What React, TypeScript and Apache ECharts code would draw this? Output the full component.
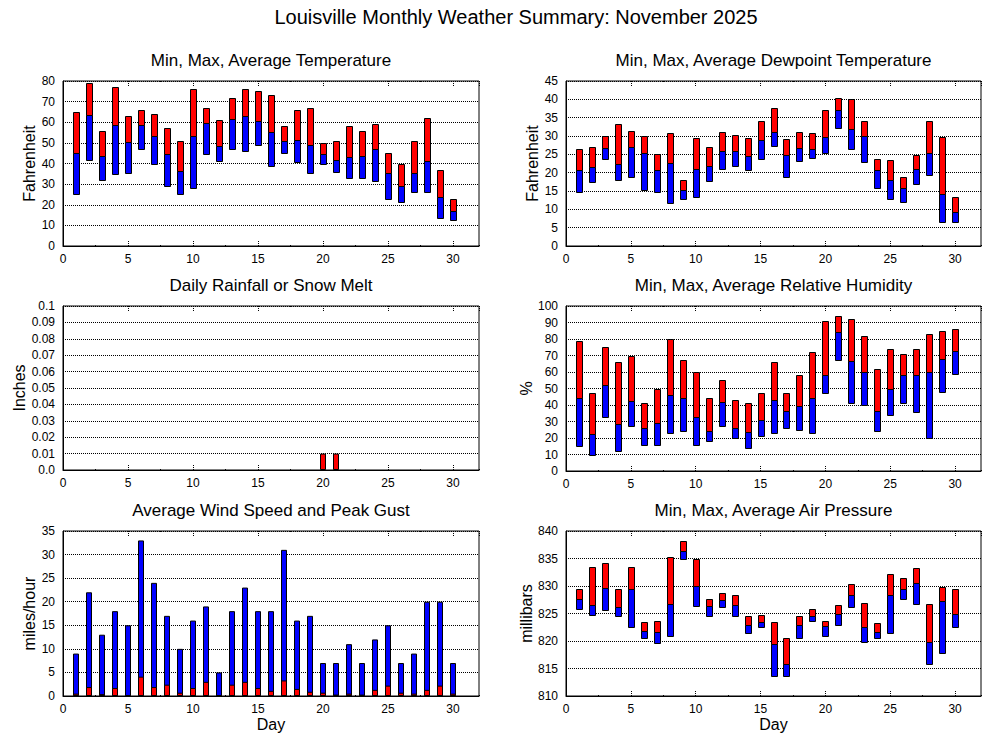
import React, { useEffect, useRef } from "react";
import * as echarts from "echarts";

const days = [1, 2, 3, 4, 5, 6, 7, 8, 9, 10, 11, 12, 13, 14, 15, 16, 17, 18, 19, 20, 21, 22, 23, 24, 25, 26, 27, 28, 29, 30];

const tempMax = [65, 79, 56, 77, 63, 66, 64, 57, 51, 76, 67, 61, 72, 76, 75, 73, 58, 66, 67, 50, 51, 58, 56, 59, 45, 40, 51, 62, 37, 23];
const tempAvg = [45.3, 63.3, 43.7, 58.8, 50.2, 58.5, 53.1, 44.4, 36.4, 53.4, 59.4, 48.6, 61.7, 63.2, 60.7, 55.1, 51.0, 51.5, 49.1, 44.4, 41.9, 43.2, 43.7, 47.1, 35.5, 29.3, 35.5, 41.0, 23.8, 17.2];
const tempMin = [25, 41.5, 32, 35, 35.5, 47, 40, 29, 25, 28, 44.5, 41, 47, 46, 49, 39, 45, 40.5, 35.5, 40, 36, 33, 33, 31.5, 23, 21.5, 26, 26, 13.5, 12.5];

const dewMax = [26.5, 27.0, 30.1, 33.4, 31.4, 30.1, 25.2, 30.7, 18.1, 29.5, 27.0, 31.0, 30.3, 29.5, 34.2, 37.7, 29.2, 31.0, 30.7, 37.2, 40.5, 40.0, 34.2, 23.8, 23.5, 18.9, 24.9, 34.2, 29.8, 13.4];
const dewAvg = [20.6, 21.6, 26.8, 22.4, 27.0, 25.5, 20.6, 22.7, 15.4, 21.0, 21.9, 26.0, 26.0, 24.6, 29.0, 31.1, 24.9, 26.8, 26.5, 29.8, 37.2, 32.0, 30.1, 20.6, 18.1, 15.7, 21.0, 25.4, 14.2, 9.3];
const dewMin = [14.8, 17.5, 23.8, 18.1, 18.9, 15.4, 14.6, 11.8, 12.9, 13.5, 17.8, 20.9, 21.9, 20.6, 23.6, 27.3, 18.7, 23.3, 23.9, 25.5, 32.1, 26.5, 22.8, 15.7, 12.7, 12.1, 16.9, 19.5, 6.6, 6.6];

const rain = [0, 0, 0, 0, 0, 0, 0, 0, 0, 0, 0, 0, 0, 0, 0, 0, 0, 0, 0, 0.01, 0.01, 0, 0, 0, 0, 0, 0, 0, 0, 0];

const rhMax = [79, 47, 75, 66, 70, 41, 50, 80, 67, 60, 44, 55, 43, 41, 47, 66, 47, 58, 72, 91, 94, 92, 82, 62, 74, 71, 74, 83, 85, 86];
const rhAvg = [44.3, 22.5, 52.4, 28.5, 42.5, 26.1, 29.1, 46.2, 44.3, 32.8, 24.3, 41.9, 26.1, 23.7, 31.0, 43.1, 36.4, 39.5, 44.3, 58.3, 84.4, 66.8, 60.1, 36.4, 49.8, 58.3, 58.3, 60.1, 68.0, 72.9];
const rhMin = [15, 10, 33, 12, 27, 16, 16, 23, 24, 16, 18, 27, 20, 14, 21, 23, 26, 25, 23, 47, 67, 41, 40, 24, 34, 41, 36, 20, 48, 59];

const windPeak = [9, 22, 13, 18, 15, 33, 24, 17, 10, 16, 19, 5, 18, 23, 18, 18, 31, 16, 17, 7, 7, 11, 7, 12, 15, 7, 9, 20, 20, 7];
const windAvg = [0.5, 1.9, 0.4, 1.7, 0, 4.1, 1.9, 2.4, 0.7, 1.7, 3.0, 0.1, 2.4, 3.0, 1.7, 1.1, 3.3, 1.5, 0.9, 0.7, 0.3, 0.5, 0.3, 1.3, 2.2, 0.7, 0.5, 1.3, 2.2, 0.5];

const presMax = [829.5, 833.5, 834.2, 829.5, 833.5, 823.5, 823.7, 835.3, 838.1, 835.0, 827.7, 828.8, 828.4, 824.6, 824.8, 823.5, 820.5, 824.6, 825.9, 823.7, 826.6, 830.3, 827.0, 823.2, 832.1, 831.4, 833.2, 826.8, 829.9, 829.4];
const presAvg = [827.6, 826.6, 829.6, 826.1, 829.5, 821.9, 821.7, 826.8, 836.4, 830.0, 826.3, 827.5, 826.5, 823.0, 823.5, 819.5, 815.9, 823.0, 824.5, 822.8, 825.0, 828.3, 822.6, 821.7, 828.3, 829.5, 830.6, 819.9, 827.2, 825.0];
const presMin = [825.9, 824.8, 825.7, 824.6, 822.6, 820.6, 819.7, 821.0, 835.0, 826.3, 824.6, 826.1, 824.6, 821.4, 822.6, 813.7, 813.7, 820.5, 823.7, 821.0, 823.0, 826.1, 819.9, 820.6, 821.5, 827.7, 826.8, 815.9, 817.9, 822.6];

const mainTitle = "Louisville Monthly Weather Summary: November 2025";
const panelTitles = [
  "Min, Max, Average Temperature",
  "Min, Max, Average Dewpoint Temperature",
  "Daily Rainfall or Snow Melt",
  "Min, Max, Average Relative Humidity",
  "Average Wind Speed and Peak Gust",
  "Min, Max, Average Air Pressure",
];
const yNames = ["Fahrenheit", "Fahrenheit", "Inches", "%", "miles/hour", "millibars"];
const xName = "Day";

const FONT = "'Liberation Sans', Arial, Helvetica, sans-serif";
const RED = "#ff0000";
const BLUE = "#0000ff";
const BAR_W = 6;

const grids = [
  { left: 63, top: 81, width: 416, height: 165 },
  { left: 566, top: 81, width: 415, height: 165 },
  { left: 63, top: 306, width: 416, height: 164 },
  { left: 566, top: 306, width: 415, height: 165 },
  { left: 63, top: 531, width: 416, height: 165 },
  { left: 566, top: 531, width: 415, height: 165 },
];

const yCfg = [
  { min: 0, max: 80, interval: 10, gap: 25 },
  { min: 0, max: 45, interval: 5, gap: 26 },
  { min: 0, max: 0.1, interval: 0.01, gap: 36 },
  { min: 0, max: 100, interval: 10, gap: 28 },
  { min: 0, max: 35, interval: 5, gap: 23 },
  { min: 810, max: 840, interval: 5, gap: 28 },
];

function xAxesFor(g: number) {
  const common = {
    type: "value",
    gridIndex: g,
    min: 0,
    max: 32,
    splitLine: { show: false },
  };
  const isBottom = g >= 4;
  return [
    {
      ...common,
      position: "bottom",
      interval: 5,
      axisLine: { show: true, onZero: false, lineStyle: { color: "#000", width: 1 } },
      axisTick: { show: true, inside: true, length: 5, lineStyle: { color: "#000", type: "dotted" } },
      axisLabel: {
        show: true,
        color: "#000",
        fontSize: 12,
        fontFamily: FONT,
        margin: 7,
        showMaxLabel: false,
        formatter: (v: number) => (v > 30 ? "" : String(v)),
      },
      name: isBottom ? xName : "",
      nameLocation: "middle",
      nameGap: 20,
      nameTextStyle: { fontSize: 16, color: "#000", fontFamily: FONT },
    },
    {
      ...common,
      position: "bottom",
      interval: 2.5,
      axisLine: { show: false, onZero: false },
      axisTick: { show: true, inside: true, length: 2, lineStyle: { color: "#000", type: "dotted" } },
      axisLabel: { show: false },
    },
    {
      ...common,
      position: "top",
      interval: 5,
      axisLine: { show: false, onZero: false },
      axisTick: { show: true, inside: true, length: 5, lineStyle: { color: "#000", type: "dotted" } },
      axisLabel: { show: false },
    },
    {
      ...common,
      position: "top",
      interval: 2.5,
      axisLine: { show: false, onZero: false },
      axisTick: { show: true, inside: true, length: 2, lineStyle: { color: "#000", type: "dotted" } },
      axisLabel: { show: false },
    },
  ];
}

function yAxisFor(g: number) {
  const c = yCfg[g];
  return {
    type: "value",
    gridIndex: g,
    min: c.min,
    max: c.max,
    interval: c.interval,
    axisLine: { show: true, onZero: false, lineStyle: { color: "#000", width: 1 } },
    axisTick: { show: false },
    axisLabel: {
      color: "#000",
      fontSize: 12,
      fontFamily: FONT,
      margin: 8,
      formatter:
        g === 2
          ? (v: number) => (v === 0 ? "0.0" : String(Math.round(v * 100) / 100))
          : (v: number) => String(v),
    },
    splitLine: { show: true, lineStyle: { color: "#000", type: "dotted", width: 1 } },
    name: yNames[g],
    nameLocation: "middle",
    nameGap: c.gap,
    nameTextStyle: { fontSize: 16, color: "#000", fontFamily: FONT },
  };
}

const edge = { borderColor: "#000", borderWidth: 1 };

function segment(g: number, lows: number[], highs: number[], color: string) {
  return {
    type: "custom",
    xAxisIndex: g * 4,
    yAxisIndex: g,
    clip: true,
    silent: true,
    encode: { x: 0, y: [1, 2] },
    data: days.map((d, i) => [d, lows[i], highs[i]]),
    renderItem: (_params: any, api: any) => {
      const x = api.value(0);
      const top = api.coord([x, api.value(2)]);
      const bot = api.coord([x, api.value(1)]);
      return {
        type: "rect",
        shape: {
          x: Math.round(top[0] - BAR_W / 2) + 0.5,
          y: Math.round(top[1]) + 0.5,
          width: BAR_W,
          height: Math.round(bot[1]) - Math.round(top[1]),
        },
        style: { fill: color, stroke: "#000", lineWidth: 1 },
      };
    },
  };
}

function rangeSeries(g: number, mins: number[], avgs: number[], maxs: number[]) {
  return [segment(g, mins, avgs, BLUE), segment(g, avgs, maxs, RED)];
}

export default function App() {
  const ref = useRef<HTMLDivElement>(null);
  useEffect(() => {
    if (!ref.current) return;
    const chart = echarts.init(ref.current, null, { renderer: "svg" });
    const xAxes: any[] = [];
    const yAxes: any[] = [];
    for (let g = 0; g < 6; g++) {
      xAxes.push(...xAxesFor(g));
      yAxes.push(yAxisFor(g));
    }
    const titles: any[] = [
      {
        text: mainTitle,
        left: 516,
        top: 17,
        textAlign: "center",
        textVerticalAlign: "middle",
        padding: 0,
        textStyle: { fontSize: 20, fontWeight: "normal", color: "#000", fontFamily: FONT },
      },
    ];
    const titleY = [60, 60, 285, 285, 510, 510];
    panelTitles.forEach((t, g) => {
      titles.push({
        text: t,
        left: grids[g].left + grids[g].width / 2,
        top: titleY[g],
        textAlign: "center",
        textVerticalAlign: "middle",
        padding: 0,
        textStyle: { fontSize: 17, fontWeight: "normal", color: "#000", fontFamily: FONT },
      });
    });
    const bar = { type: "bar", barWidth: BAR_W, emphasis: { disabled: true }, silent: true };
    const series: any[] = [
      ...rangeSeries(0, tempMin, tempAvg, tempMax),
      ...rangeSeries(1, dewMin, dewAvg, dewMax),
      {
        ...bar,
        xAxisIndex: 8,
        yAxisIndex: 2,
        data: days.map((d, i) => [d, rain[i]]).filter((p) => p[1] > 0),
        itemStyle: { color: RED, ...edge },
      },
      ...rangeSeries(3, rhMin, rhAvg, rhMax),
      {
        ...bar,
        xAxisIndex: 16,
        yAxisIndex: 4,
        barGap: "-100%",
        data: days.map((d, i) => [d, windPeak[i]]),
        itemStyle: { color: BLUE, ...edge },
      },
      {
        ...bar,
        xAxisIndex: 16,
        yAxisIndex: 4,
        barGap: "-100%",
        data: days.map((d, i) => [d, windAvg[i]]),
        itemStyle: { color: RED, ...edge },
      },
      ...rangeSeries(5, presMin, presAvg, presMax),
    ];
    chart.setOption({
      animation: false,
      backgroundColor: "#fff",
      textStyle: { fontFamily: FONT },
      title: titles,
      grid: grids.map((gr) => ({
        ...gr,
        show: true,
        borderColor: "#000",
        borderWidth: 1,
        backgroundColor: "transparent",
        containLabel: false,
        outerBoundsMode: "none",
      })),
      xAxis: xAxes,
      yAxis: yAxes,
      series,
    });
    return () => chart.dispose();
  }, []);
  return (
    <div
      ref={ref}
      style={{ position: "absolute", left: 0, top: 0, width: 1000, height: 750, background: "#fff" }}
    />
  );
}
